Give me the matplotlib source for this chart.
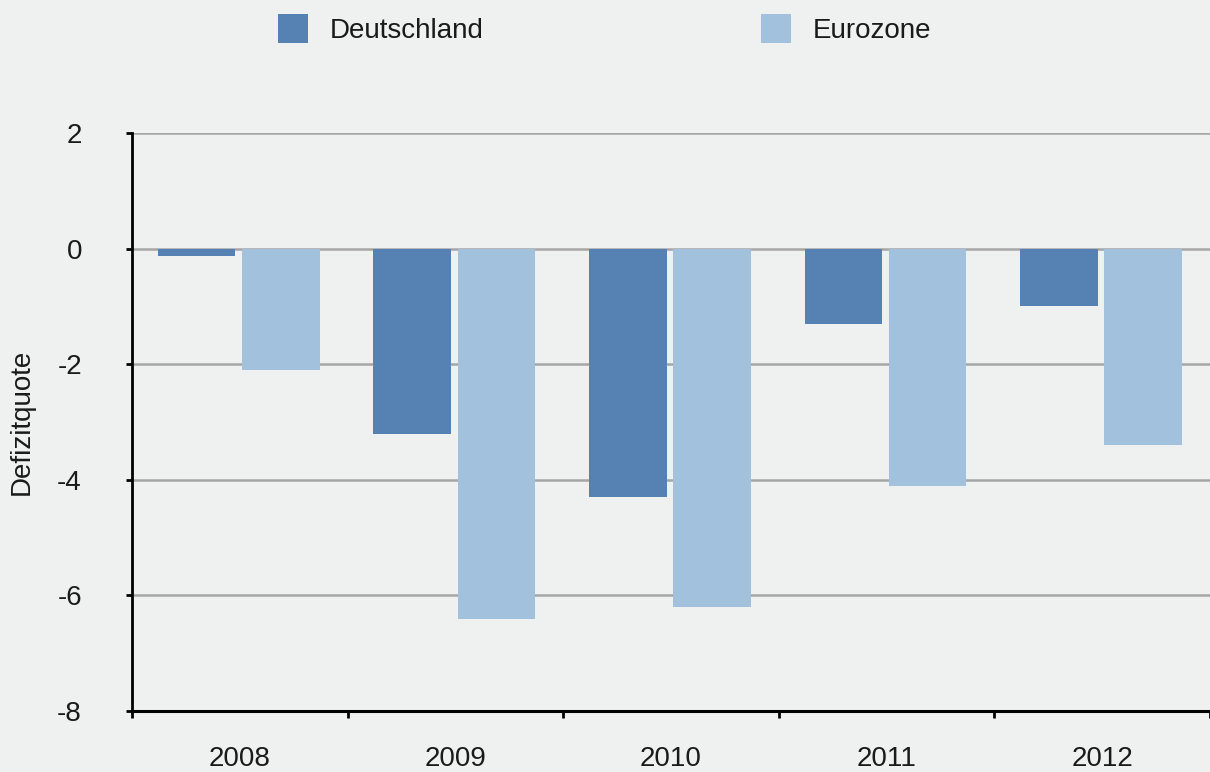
"""
Defizitquote Deutschland vs. Eurozone, 2008-2012
"""

import numpy as np
import matplotlib
matplotlib.use("Agg")
import matplotlib.pyplot as plt

years = ["2008", "2009", "2010", "2011", "2012"]
deutschland = [-0.13, -3.2, -4.3, -1.3, -1.0]
eurozone = [-2.1, -6.4, -6.2, -4.1, -3.4]
y_ticks = [2, 0, -2, -4, -6, -8]

BG = "#eff1f0"
DARK = "#5681b3"
LIGHT = "#a2c1dd"

plt.rcParams["font.family"] = ["Liberation Sans", "DejaVu Sans"]

fig = plt.figure(figsize=(12.1, 7.72), dpi=100, facecolor=BG)
ax = fig.add_axes([132 / 1210, 1 - 711 / 772, 1 - 132 / 1210, (711 - 133) / 772])
ax.set_facecolor(BG)

x = np.arange(len(years))
w = 0.36
ax.bar(x - 0.2, deutschland, w, color=DARK, label="Deutschland", zorder=2)
ax.bar(x + 0.19, eurozone, w, color=LIGHT, label="Eurozone", zorder=2)

ax.set_xlim(-0.5, len(years) - 0.5)
ax.set_ylim(-8, 2)
ax.set_yticks(y_ticks)
ax.set_yticklabels([str(v) for v in y_ticks])
ax.yaxis.grid(True, color="#a6a6a6", linewidth=1.8)
ax.set_axisbelow(True)

# category boundaries as major ticks, year labels on minor ticks
ax.set_xticks(np.arange(len(years) + 1) - 0.5)
ax.set_xticklabels([])
ax.set_xticks(x, minor=True)
ax.set_xticklabels(years, minor=True)
ax.tick_params(axis="x", which="major", direction="out", length=5, width=2, color="black")
ax.tick_params(axis="x", which="minor", length=0, pad=25, labelsize=20, labelcolor="#1a1a1a")
ax.tick_params(axis="y", direction="out", length=4, width=2, pad=32, labelsize=20,
               labelcolor="#1a1a1a")

for side in ["top", "right"]:
    ax.spines[side].set_visible(False)
ax.spines["left"].set_linewidth(2)
ax.spines["bottom"].set_linewidth(2.2)
ax.spines["bottom"].set_zorder(3)

fig.text(22 / 1210, 0.5 * ((1 - 711 / 772) + (1 - 133 / 772)), "Defizitquote",
         rotation=90, ha="center", va="center", fontsize=20, color="#1a1a1a")

fig.legend(loc="upper left", bbox_to_anchor=(278 / 1210, 1 - 14 / 772), ncol=2,
           frameon=False, fontsize=20, handlelength=1.08, handleheight=1.25,
           handletextpad=0.78, columnspacing=10, borderpad=0, borderaxespad=0,
           labelcolor="#1a1a1a")

plt.savefig("out.png", dpi=100, facecolor=BG)
plt.close()
